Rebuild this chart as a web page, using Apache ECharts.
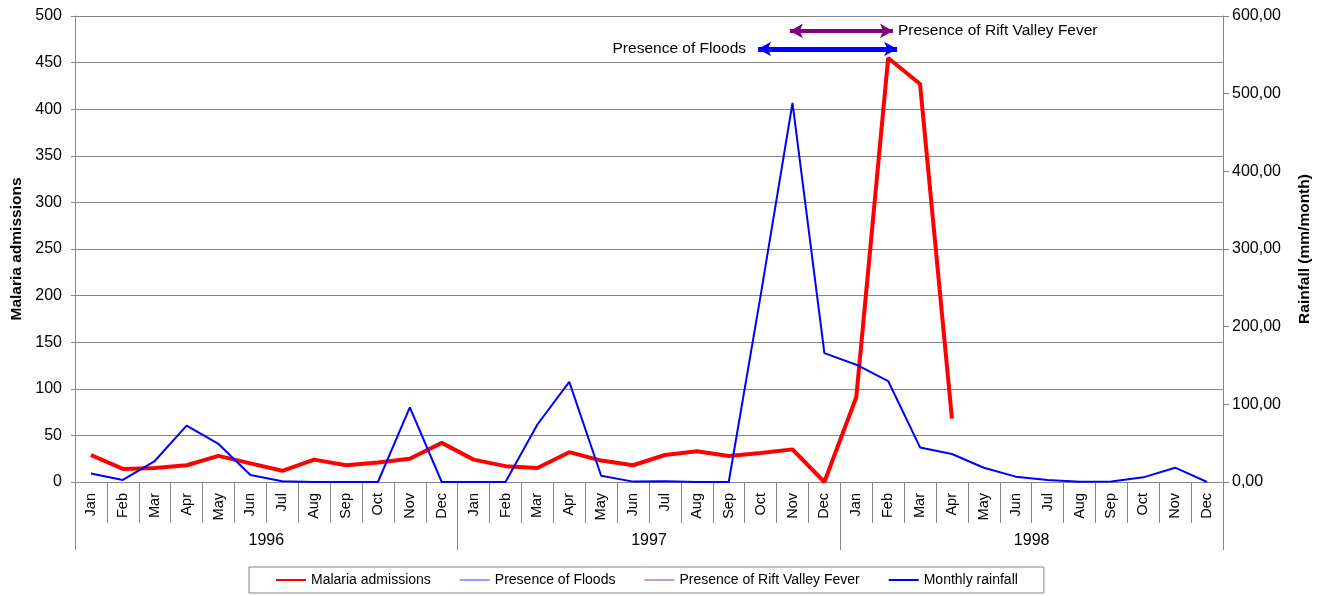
<!DOCTYPE html>
<html>
<head>
<meta charset="utf-8">
<script src="https://cdn.jsdelivr.net/npm/echarts@6/dist/echarts.min.js"></script>
<style>
html,body{margin:0;padding:0;background:#fff;}
#chart{width:1317px;height:596px;}
</style>
</head>
<body>
<div id="chart"></div>
<script>
const months = ['Jan','Feb','Mar','Apr','May','Jun','Jul','Aug','Sep','Oct','Nov','Dec'];
const years = ['1996','1997','1998'];
const malaria = [29,14,15,18,28,20,12,24,18,21,25,42,
                 24,17,15,32,23,18,29,33,28,31,35,0,
                 91,455,427,68,null,null,null,null,null,null,null,null];
const rainfall = [11,2.6,27,72.5,49,9,1,0,0,0,96,0,
                  0,0,74,129,8,0.5,1,0,0,240,488,166,
                  151,130,44.5,36,18.4,6.9,2.6,0.3,0.5,6,18.4,0];
// periods, in months counted from the start of Jan 1996
const floodsSpan = [21.42, 25.78];
const floodsLevel = 464.6;
const rvfSpan = [22.42, 25.65];
const rvfLevel = 484;
const leftTicks = {min:0, max:500, interval:50};
const rightTicks = {min:0, max:600, interval:100};

const categories = [];
years.forEach(y => months.forEach(m => categories.push(m + ' ' + y)));

const FONT = 'Liberation Sans, Arial, Helvetica, sans-serif';
const chart = echarts.init(document.getElementById('chart'), null, {renderer:'canvas'});
const gray = '#858585';

chart.setOption({
  animation:false,
  textStyle:{fontFamily:FONT},
  grid:{left:75, right:94, top:16, bottom:114, containLabel:false, outerBoundsMode:'none'},
  legend:{
    left:249, top:567,
    padding:[6,26,6,26],
    borderColor:gray, borderWidth:1,
    itemWidth:30, itemHeight:14, itemGap:28,
    itemStyle:{opacity:0},
    textStyle:{fontFamily:FONT, fontSize:14, color:'#000'},
    data:['Malaria admissions','Presence of Floods','Presence of Rift Valley Fever','Monthly rainfall']
  },
  xAxis:[{
    type:'category', data:categories, position:'bottom', boundaryGap:true,
    axisLine:{show:true, lineStyle:{color:gray}},
    axisTick:{show:true, interval:0, length:41, lineStyle:{color:gray}},
    axisLabel:{interval:0, rotate:90, margin:11, fontSize:14.5, color:'#000', fontFamily:FONT,
      formatter:v => v.split(' ')[0]},
    splitLine:{show:false}
  },{
    type:'category', data:years, position:'bottom', boundaryGap:true,
    axisLine:{show:false},
    axisTick:{show:true, interval:0, length:68, lineStyle:{color:gray}},
    axisLabel:{interval:0, margin:51, fontSize:16, color:'#000', fontFamily:FONT},
    splitLine:{show:false}
  },{
    type:'value', min:0, max:36, show:false, position:'top'
  }],
  yAxis:[{
    type:'value', min:leftTicks.min, max:leftTicks.max, interval:leftTicks.interval,
    name:'Malaria admissions', nameLocation:'middle', nameGap:47,
    nameTextStyle:{fontSize:15.5, fontWeight:'bold', color:'#000', fontFamily:FONT},
    axisLine:{show:true, lineStyle:{color:gray}},
    axisTick:{show:true, length:4, lineStyle:{color:gray}},
    axisLabel:{fontSize:16, color:'#000', margin:13, fontFamily:FONT},
    splitLine:{show:true, lineStyle:{color:gray, width:1}}
  },{
    type:'value', min:rightTicks.min, max:rightTicks.max, interval:rightTicks.interval,
    name:'Rainfall (mm/month)', nameLocation:'middle', nameGap:74,
    nameTextStyle:{fontSize:15.5, fontWeight:'bold', color:'#000', fontFamily:FONT},
    axisLine:{show:true, lineStyle:{color:gray}},
    axisTick:{show:true, length:6, lineStyle:{color:gray}},
    axisLabel:{fontSize:16, color:'#000', margin:9, fontFamily:FONT,
      formatter:v => v.toFixed(2).replace('.', ',')},
    splitLine:{show:false}
  }],
  series:[{
    name:'Malaria admissions', type:'line', yAxisIndex:0, data:malaria,
    symbol:'none', connectNulls:false,
    lineStyle:{color:'#ff0000', width:4}, itemStyle:{color:'#ff0000'}, z:3
  },{
    name:'Presence of Floods', type:'line', xAxisIndex:2, yAxisIndex:0, data:[],
    symbol:'none',
    lineStyle:{color:'#9a9aff', width:1.5}, itemStyle:{color:'#9a9aff'},
    markLine:{
      silent:true, symbol:['arrow','arrow'], symbolSize:[11,13],
      lineStyle:{color:'#0000ff', width:5, type:'solid'},
      itemStyle:{color:'#0000ff'},
      label:{show:true, position:'start', distance:12, formatter:'Presence of Floods',
        color:'#000', fontSize:15.5, fontFamily:FONT},
      data:[[{coord:[floodsSpan[0], floodsLevel]},{coord:[floodsSpan[1], floodsLevel]}]]
    }
  },{
    name:'Presence of Rift Valley Fever', type:'line', xAxisIndex:2, yAxisIndex:0, data:[],
    symbol:'none',
    lineStyle:{color:'#cc99cc', width:1.5}, itemStyle:{color:'#cc99cc'},
    markLine:{
      silent:true, symbol:['arrow','arrow'], symbolSize:[11,13],
      lineStyle:{color:'#800080', width:4, type:'solid'},
      itemStyle:{color:'#800080'},
      label:{show:true, position:'end', distance:5, formatter:'Presence of Rift Valley Fever',
        color:'#000', fontSize:15.5, fontFamily:FONT},
      data:[[{coord:[rvfSpan[0], rvfLevel]},{coord:[rvfSpan[1], rvfLevel]}]]
    }
  },{
    name:'Monthly rainfall', type:'line', yAxisIndex:1, data:rainfall,
    symbol:'none',
    lineStyle:{color:'#0000ff', width:2}, itemStyle:{color:'#0000ff'}, z:4
  }]
});
</script>
</body>
</html>
